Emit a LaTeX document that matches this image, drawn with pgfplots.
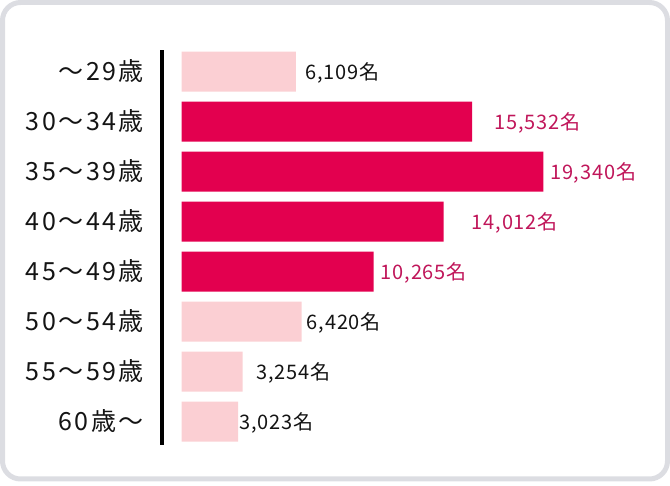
\documentclass[border=0pt]{standalone}
\usepackage{fontspec}
\setmainfont{Noto Sans CJK JP}
\newfontfamily\catfont{Noto Sans CJK JP}[LetterSpace=10]
\newfontfamily\valfont{Noto Sans CJK JP}[LetterSpace=4]
\usepackage{pgfplots}
\usepackage{pgfplotstable}
\pgfplotsset{compat=1.18}
\definecolor{palebar}{HTML}{FBCFD3}
\definecolor{redbar}{HTML}{E3004F}
\definecolor{pinktxt}{HTML}{C0165A}
\definecolor{txt}{HTML}{141414}
\definecolor{frame}{HTML}{DCDDE2}

\pgfplotstableread{
y v
0 6109
5 6420
6 3254
7 3023
}\paletab
\pgfplotstableread{
y v
1 15532
2 19340
3 14012
4 10265
}\redtab
\pgfplotstableread{
y lx lab
0 6594 6,109
5 6684 6,420
6 3973 3,254
7 3080 3,023
}\palelab
\pgfplotstableread{
y lx lab
1 16717 15,532
2 19695 19,340
3 15508 14,012
4 10642 10,265
}\redlab

\begin{document}
\begin{tikzpicture}
\useasboundingbox (0,0) rectangle (670bp,486bp);
\draw[line width=5bp, color=frame, rounded corners=18bp] (2.5bp,7bp) rectangle (667.5bp,483.5bp);
\begin{axis}[
  at={(162bp,41bp)}, anchor=south west, scale only axis,
  width=468.5bp, height=395bp,
  xmin=-1053, xmax=24000, ymin=-0.43, ymax=7.47, y dir=reverse,
  axis x line=none, axis y line*=left,
  axis line style={-, line width=3.5bp, color=black},
  ytick={0,...,7},
  yticklabels={～29歳,30～34歳,35～39歳,40～44歳,45～49歳,50～54歳,55～59歳,60歳～},
  major tick length=0pt,
  yticklabel style={font=\catfont\fontsize{25bp}{25bp}\selectfont, text=txt, inner sep=0pt, xshift=-18bp, anchor=east},
  clip=false,
]
\addplot[xbar, bar width=0.8, bar shift=0pt, fill=palebar, draw=none] table[x=v,y=y]{\paletab};
\addplot[xbar, bar width=0.8, bar shift=0pt, fill=redbar, draw=none] table[x=v,y=y]{\redtab};
\addplot[draw=none, mark=none, point meta=explicit symbolic,
  nodes near coords={\pgfplotspointmeta 名},
  nodes near coords style={anchor=west, inner sep=0pt, yshift=-1bp, text=txt, font=\valfont\fontsize{20bp}{20bp}\selectfont}]
  table[x=lx,y=y,meta=lab]{\palelab};
\addplot[draw=none, mark=none, point meta=explicit symbolic,
  nodes near coords={\pgfplotspointmeta 名},
  nodes near coords style={anchor=west, inner sep=0pt, yshift=-1bp, text=pinktxt, font=\valfont\fontsize{20bp}{20bp}\selectfont}]
  table[x=lx,y=y,meta=lab]{\redlab};
\end{axis}
\end{tikzpicture}
\end{document}
